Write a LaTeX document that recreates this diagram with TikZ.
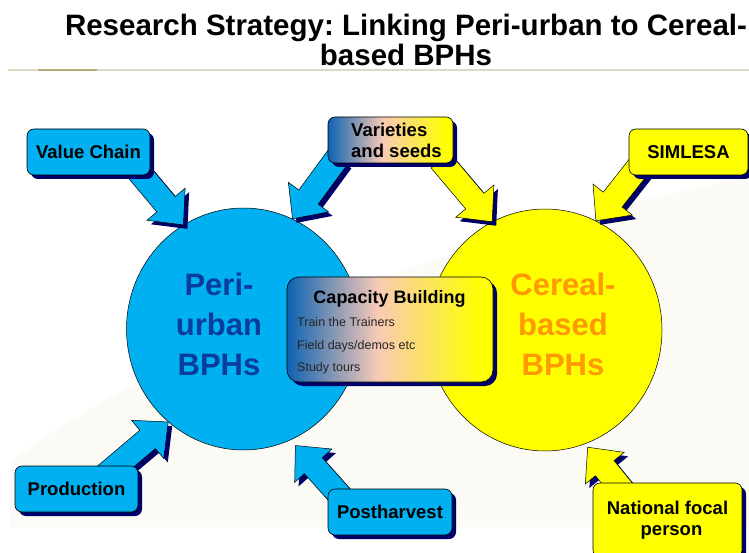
\documentclass[tikz,border=0pt]{standalone}
\usepackage{fontspec}
\setmainfont{Liberation Sans}
\usetikzlibrary{calc,shadows,shapes.geometric}
\frenchspacing
\definecolor{skyb}{HTML}{00B0F0}
\definecolor{navyc}{HTML}{000066}
\definecolor{yel}{HTML}{FFFF00}
\definecolor{periblue}{HTML}{0A3C9E}
\definecolor{orng}{HTML}{FF9900}
\definecolor{gblue}{HTML}{0E62B2}
\definecolor{gpeach}{HTML}{F9CAB6}
\definecolor{rulec}{HTML}{DDDAC4}
\definecolor{ruled}{HTML}{B2A878}
\definecolor{bgc}{HTML}{FBFAF5}
\pgfdeclarehorizontalshading{capgrad}{100bp}{color(0bp)=(gblue); color(25bp)=(gblue); color(47bp)=(gpeach); color(72bp)=(yel); color(100bp)=(yel)}
\pgfdeclarelayer{bg}
\pgfdeclarelayer{arr}
\pgfsetlayers{bg,arr,main}
\newcommand\blockarr[3]{%
  \path (#1) coordinate (ba-s) (#2) coordinate (ba-t);
  \path ($(ba-t)!27pt!(ba-s)$) coordinate (ba-h);
  \path ($(ba-s)!12pt!90:(ba-t)$) coordinate (ba-p1)
        ($(ba-h)!12pt!90:(ba-t)$) coordinate (ba-p2)
        ($(ba-h)!25pt!90:(ba-t)$) coordinate (ba-p3)
        ($(ba-h)!25pt!-90:(ba-t)$) coordinate (ba-p4)
        ($(ba-h)!12pt!-90:(ba-t)$) coordinate (ba-p5)
        ($(ba-s)!12pt!-90:(ba-t)$) coordinate (ba-p6);
  \fill[navyc, transform canvas={xshift=4pt,yshift=-4pt}] (ba-p1)--(ba-p2)--(ba-p3)--(ba-t)--(ba-p4)--(ba-p5)--(ba-p6)--cycle;
  \filldraw[fill=#3, draw=black, line width=0.5pt] (ba-p1)--(ba-p2)--(ba-p3)--(ba-t)--(ba-p4)--(ba-p5)--(ba-p6)--cycle;
}
\tikzset{
  bx/.style={draw=black, line width=0.6pt, rounded corners=7pt, inner sep=0pt,
    font=\fontsize{18.5}{21}\selectfont\bfseries, align=center,
    drop shadow={shadow xshift=4pt, shadow yshift=-4pt, fill=navyc, opacity=1}},
  bluebx/.style={bx, fill=skyb},
  yelbx/.style={bx, fill=yel},
  gradbx/.style={bx, shade, shading=capgrad},
  bigcirc/.style={ellipse, draw=black, line width=0.5pt, inner sep=0pt, minimum width=234pt, minimum height=242pt},
  circtxt/.style={font=\fontsize{31}{40}\selectfont\bfseries, align=center, inner sep=0pt},
  itemtxt/.style={font=\fontsize{12.5}{14}\selectfont, text=black!85, inner sep=0pt, anchor=base west}
}
\begin{document}
\begin{tikzpicture}[x=1pt,y=-1pt]
\useasboundingbox (0,0) rectangle (749,553);
\clip (0,0) rectangle (749,553);
\begin{pgfonlayer}{bg}
\fill[white] (0,0) rectangle (749,553);
\fill[bgc] (11,527) -- (11,462) .. controls (110,385) and (330,268) .. (749,176) -- (749,527) -- cycle;
\draw[rulec, line width=2pt] (8,70) -- (749,70);
\draw[ruled, line width=2.6pt] (38,70) -- (97,70);
\node[bigcirc, fill=skyb] (peri) at (243.5,329) {};
\node[bigcirc, fill=yel] (cereal) at (545,330) {};
\node[circtxt, text=periblue] (peritxt) at (219,324) {Peri-\\urban\\BPHs};
\node[circtxt, text=orng] (cerealtxt) at (563,324) {Cereal-\\based\\BPHs};
\end{pgfonlayer}

\node[font=\fontsize{29.5}{30}\selectfont\bfseries, align=center, inner sep=0pt] (title) at (406,39.5) {Research Strategy: Linking Peri-urban to Cereal-\\based BPHs};

\node[bluebx, minimum width=123pt, minimum height=46pt] (vc) at (88.5,152) {Value Chain};
\node[gradbx, minimum width=125pt, minimum height=46pt] (var) at (390.5,140) {};
\node[font=\fontsize{18.5}{21}\selectfont\bfseries, align=left, inner sep=0pt, anchor=west] (varlbl) at (351,140) {Varieties\\and seeds};
\node[yelbx, minimum width=119pt, minimum height=46pt] (sim) at (688.5,152) {SIMLESA};
\node[bluebx, minimum width=123pt, minimum height=46pt] (prod) at (76.5,489) {Production};
\node[bluebx, minimum width=124pt, minimum height=46pt] (post) at (390,512) {Postharvest};
\node[yelbx, minimum width=149pt, minimum height=74pt] (nat) at (667.5,520) {National focal\\\hspace*{8pt}person};

\node[gradbx, rounded corners=12pt, minimum width=206pt, minimum height=105pt] (cap) at (390,329.5) {};
\node[font=\fontsize{18}{20}\selectfont\bfseries, inner sep=0pt, anchor=base] (captitle) at (389.5,303) {Capacity Building};
\node[itemtxt] (cap1) at (297,326) {Train the Trainers};
\node[itemtxt] (cap2) at (297,349) {Field days/demos etc};
\node[itemtxt] (cap3) at (297,371) {Study tours};

\begin{pgfonlayer}{arr}
\blockarr{$(vc.south east)+(-17,-10)$}{peri.120}{skyb}
\blockarr{$(var.south west)+(10,-6)$}{peri.66}{skyb}
\blockarr{$(var.south east)+(-13,-3)$}{cereal.116}{yel}
\blockarr{$(sim.south west)+(11,-10)$}{cereal.65}{yel}
\blockarr{$(prod.north west)+(90,10)$}{peri.231}{skyb}
\blockarr{$(post.north west)+(16,11)$}{$(peri.294)!-7pt!(peri.center)$}{skyb}
\blockarr{$(nat.north west)+(41,21)$}{$(cereal.290)!-4pt!(cereal.center)$}{yel}
\end{pgfonlayer}
\end{tikzpicture}
\end{document}
